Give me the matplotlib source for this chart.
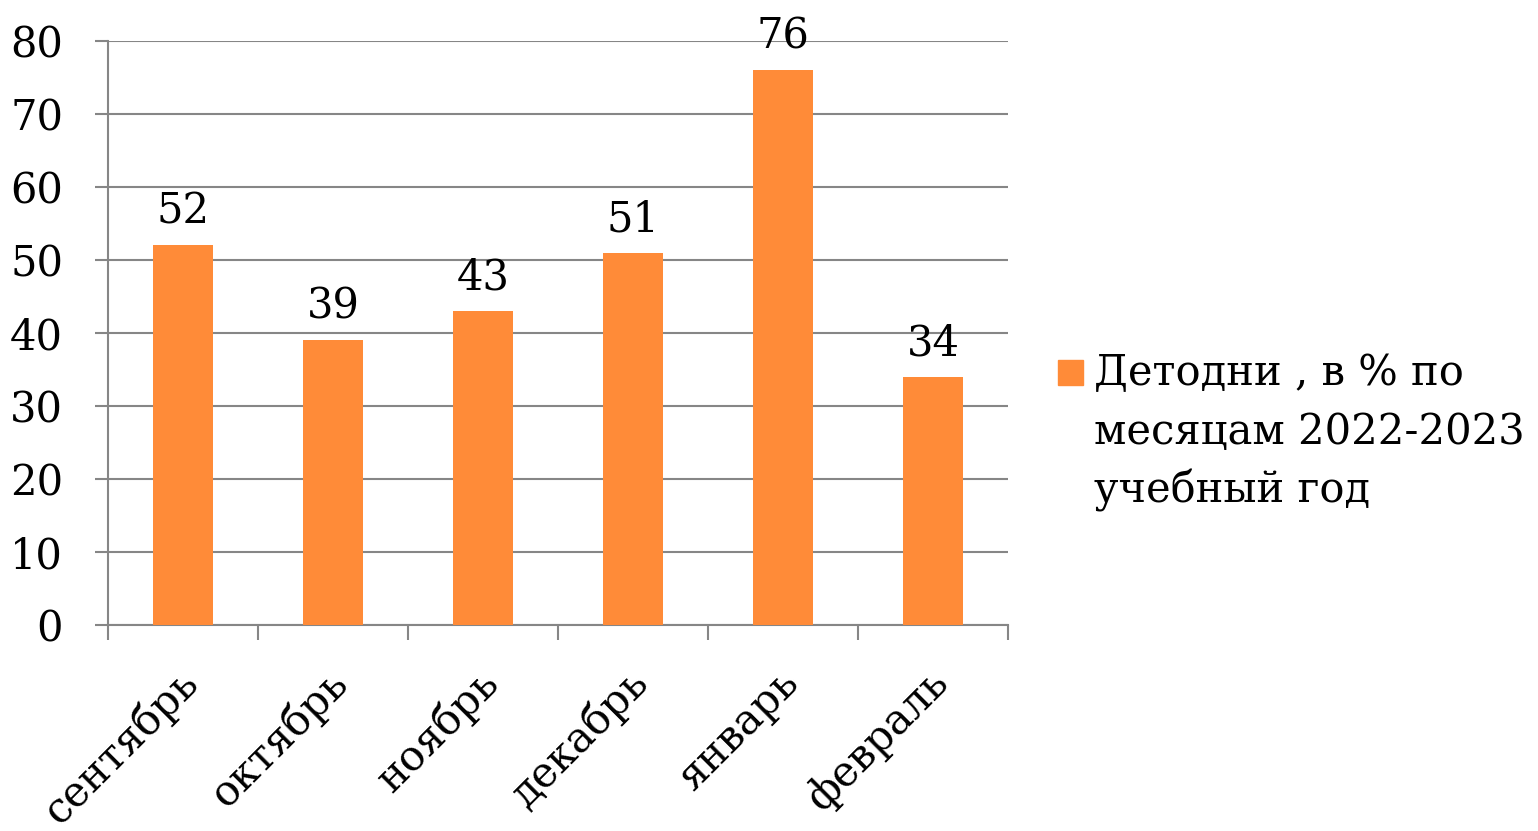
import numpy as np
import matplotlib.pyplot as plt
from matplotlib.patches import Rectangle

# Data
months = ['сентябрь', 'октябрь', 'ноябрь', 'декабрь', 'январь', 'февраль']
values = [52, 39, 43, 51, 76, 34]
series_label = 'Детодни , в % по\nмесяцам 2022-2023\nучебный год'
yticks = [0, 10, 20, 30, 40, 50, 60, 70, 80]

bar_color = '#FF8B38'
grid_color = '#868686'

plt.rcParams['font.family'] = ['DejaVu Serif']
plt.rcParams['font.size'] = 30

fig = plt.figure(figsize=(15.38, 8.31), dpi=100)
ax = fig.add_axes([108/1538, 1 - 625/831, 900/1538, 584/831])

x = np.arange(len(months))
bars = ax.bar(x, values, width=0.4, color=bar_color, zorder=3)

# value labels above bars
for xi, v in zip(x, values):
    ax.annotate(str(v), (xi, v), xytext=(0, 9), textcoords='offset points',
                ha='center', va='bottom', fontsize=30)

ax.set_xlim(-0.5, len(months) - 0.5)
ax.set_ylim(0, 80)
ax.set_yticks(yticks)
ax.yaxis.grid(True, color=grid_color, linewidth=1.5, zorder=0)
ax.tick_params(axis='y', length=9.4, width=1.5, color=grid_color, pad=23)

# category boundaries as major ticks, names on minor ticks
ax.set_xticks(np.arange(len(months) + 1) - 0.5)
ax.set_xticklabels([])
ax.tick_params(axis='x', which='major', length=10.8, width=1.5, color=grid_color)
ax.set_xticks(x - 0.04, minor=True)
ax.set_xticklabels(months, minor=True, rotation=45, ha='right',
                   rotation_mode='anchor')
ax.tick_params(axis='x', which='minor', length=0, pad=26)

for side in ['top', 'right']:
    ax.spines[side].set_visible(False)
for side in ['left', 'bottom']:
    ax.spines[side].set_color(grid_color)
    ax.spines[side].set_linewidth(1.5)

# legend drawn by hand so the marker sits next to the first line
fig.add_artist(Rectangle((1058/1538, 1 - 385/831), 25/1538, 25/831,
                         transform=fig.transFigure, color=bar_color))
fig.text(1094/1538, 1 - 352/831, series_label, ha='left', va='top',
         fontsize=30, linespacing=1.5)

fig.savefig('out.png', dpi=100, facecolor='white')
